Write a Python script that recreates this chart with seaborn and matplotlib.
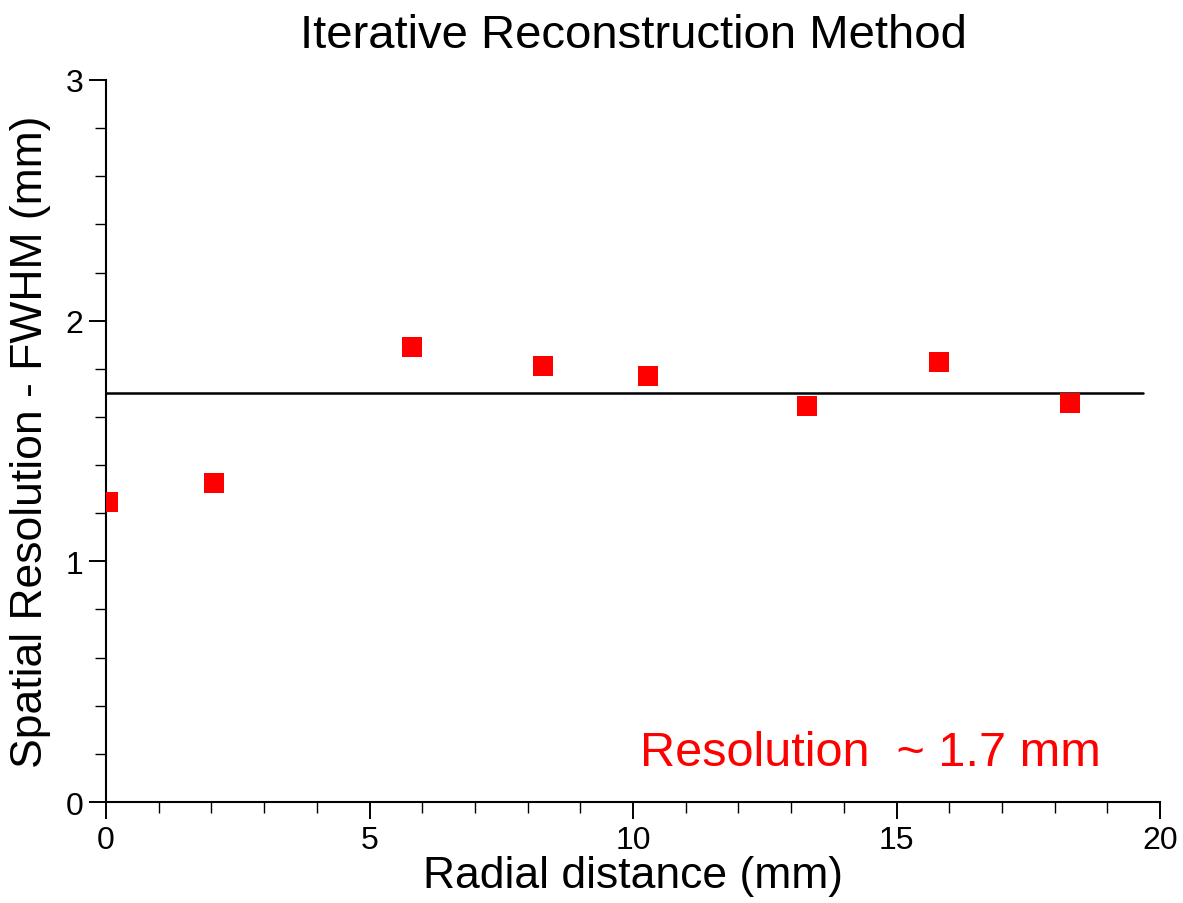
import matplotlib
matplotlib.use("Agg")
import matplotlib.pyplot as plt
import seaborn as sns
import pandas as pd
from matplotlib.ticker import MultipleLocator

# Data
radial_distance = [0.04, 2.05, 5.8, 8.3, 10.28, 13.3, 15.8, 18.3]
fwhm = [1.248, 1.324, 1.89, 1.81, 1.77, 1.645, 1.83, 1.66]
fit_x = [0.0, 19.68]
fit_y = [1.7, 1.7]
title = "Iterative Reconstruction Method"
xlabel = "Radial distance (mm)"
ylabel = "Spatial Resolution - FWHM (mm)"
annotation = "Resolution  ~ 1.7 mm"

sns.set_theme(style="ticks")
plt.rcParams['font.family'] = ['Liberation Sans', 'DejaVu Sans']
plt.rcParams['text.color'] = 'black'
plt.rcParams['axes.labelcolor'] = 'black'
plt.rcParams['xtick.color'] = 'black'
plt.rcParams['ytick.color'] = 'black'

fig = plt.figure(figsize=(11.83, 9.04), dpi=100)
ax = fig.add_axes([0.0896, 0.1117, 0.891, 0.7987])

df = pd.DataFrame({"x": radial_distance, "y": fwhm})
sns.lineplot(x=fit_x, y=fit_y, ax=ax, color="black", linewidth=1.8)
sns.scatterplot(data=df, x="x", y="y", ax=ax, marker="s", s=210,
                color="#ff0000", linewidth=0, zorder=3)

ax.set_xlim(0, 20)
ax.set_ylim(0, 3)
ax.xaxis.set_major_locator(MultipleLocator(5))
ax.xaxis.set_minor_locator(MultipleLocator(1))
ax.yaxis.set_major_locator(MultipleLocator(1))
ax.yaxis.set_minor_locator(MultipleLocator(0.2))

for s in ["top", "right"]:
    ax.spines[s].set_visible(False)
for s in ["left", "bottom"]:
    ax.spines[s].set_linewidth(1.5)
    ax.spines[s].set_color("black")

ax.tick_params(which="major", direction="out", length=12.5, width=1.4,
               labelsize=23, labelcolor="black", color="black", pad=4)
ax.tick_params(which="minor", direction="out", length=8, width=1.0, color="black")

ax.set_title(title, fontsize=34, pad=24, color="black")
ax.set_xlabel(xlabel, fontsize=32, labelpad=0, color="black")
ax.set_ylabel(ylabel, fontsize=32, labelpad=10, color="black")

ax.text(0.725, 0.068, annotation, transform=ax.transAxes, color="#ff0000",
        fontsize=35, ha="center", va="center")

fig.savefig("out.png", dpi=100)
